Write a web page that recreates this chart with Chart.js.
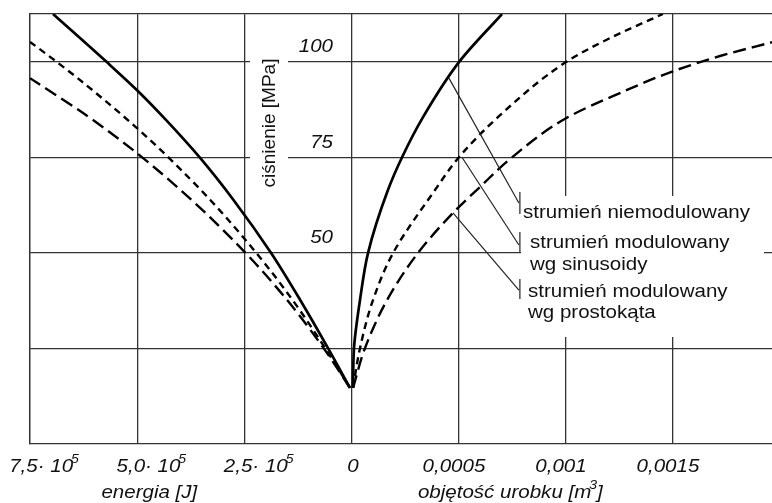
<!DOCTYPE html>
<html>
<head>
<meta charset="utf-8">
<script src="https://cdn.jsdelivr.net/npm/chart.js@4/dist/chart.umd.min.js"></script>
<style>
  html, body { margin: 0; padding: 0; background: #fff; }
  #wrap { width: 772px; height: 503px; }
</style>
</head>
<body>
<div id="wrap"><canvas id="c" width="772" height="503"></canvas></div>
<script>
// ---- series: energy [J] vs pressure [MPa] (left half) ----
const energySolidE  = [4700, 55900, 120700, 188400, 276000, 355200, 432800, 501200, 571100, 696400];
const energySolidP  = [14.7, 25.1, 37.7, 50, 63.9, 75.1, 84.8, 92.7, 100, 112.6];
const energySinE    = [4700, 62400, 138400, 222700, 330100, 428100, 503600, 619100, 687100, 750000];
const energySinP    = [14.7, 25.1, 37.7, 50, 63.9, 75.1, 83.0, 94.0, 100, 105.3];
const energyRectE   = [4700, 66200, 151200, 247600, 373600, 498000, 616500, 750000];
const energyRectP   = [14.7, 25.1, 37.7, 50, 63.9, 75.9, 85.9, 95.8];

// ---- series: volume of output [m3] vs pressure [MPa] (right half) ----
const volumeSolidV  = [0.0000047, 0.0000093, 0.0000374, 0.0000748, 0.000168, 0.000234, 0.000332, 0.0005, 0.000701];
const volumeSolidP  = [14.7, 25.1, 37.7, 50, 66.5, 75.1, 85.6, 100, 112.6];
const volumeSinV    = [0.0000047, 0.0000374, 0.0000981, 0.000192, 0.000388, 0.0005, 0.000692, 0.001, 0.001206, 0.001453];
const volumeSinP    = [14.7, 25.1, 37.7, 50, 66.5, 75.1, 86.1, 100, 106.3, 112.6];
const volumeRectV   = [0.0000047, 0.0000607, 0.000164, 0.000308, 0.000472, 0.000598, 0.000738, 0.001, 0.001252, 0.0015, 0.00172, 0.001963];
const volumeRectP   = [14.7, 25.1, 37.7, 50, 60.5, 67.3, 74.6, 85.3, 91.9, 97.6, 101.6, 105.2];

// ---- axes ----
const pressureGrid       = [25, 50, 75, 100];
const pressureLabelTicks = [50, 75, 100];
const energyTicks        = [750000, 500000, 250000];
const energyTickLabels   = ['7,5· 10⁵', '5,0· 10⁵', '2,5· 10⁵'];
const volumeTicks        = [0, 0.0005, 0.001, 0.0015];
const volumeTickLabels   = ['0', '0,0005', '0,001', '0,0015'];

const energyTitle   = 'energia [J]';
const volumeTitle   = 'objętość urobku [m³]';
const pressureTitle = 'ciśnienie [MPa]';

// axis extents: energy runs leftwards from the shared zero line, volume rightwards
const ENERGY_MAX = 750000;
const VOLUME_MAX = 0.001963;
const ZERO_FRAC  = 322 / 742;   // where the zero line sits across the plot width
const P_MAX      = 112.6;

const INK  = '#111';
const GRID = '#333';
const FONT = '"Liberation Sans", Arial, Helvetica, sans-serif';

const toPoints = (xs, ys) => xs.map((x, i) => ({ x: x, y: ys[i] }));

const SOLID = [];
const SHORT = [7, 5];
const LONG  = [13, 6];

function series(xs, ys, axis, dash) {
  return {
    data: toPoints(xs, ys),
    xAxisID: axis,
    yAxisID: 'y',
    borderColor: '#000',
    borderWidth: dash.length ? 2.4 : 2.7,
    borderDash: dash,
    fill: false,
    pointRadius: 0
  };
}

// ---- text helper: handles superscript digits and slight horizontal widening ----
const SUP = { '⁰': '0', '¹': '1', '²': '2', '³': '3', '⁴': '4', '⁵': '5', '⁶': '6', '⁷': '7', '⁸': '8', '⁹': '9' };
function splitSup(str) {
  const out = [];
  for (const ch of str) {
    const sup = SUP[ch] !== undefined;
    const c = sup ? SUP[ch] : ch;
    const last = out[out.length - 1];
    if (last && last.sup === sup) last.t += c; else out.push({ t: c, sup: sup });
  }
  return out;
}
function drawText(ctx, str, x, y, o) {
  const size = o.size || 19;
  const sx = o.scaleX || 1.08;
  const st = o.italic ? 'italic ' : '';
  const parts = splitSup(str);
  const fontFor = p => st + (p.sup ? Math.round(size * 0.68) : size) + 'px ' + FONT;
  let w = 0;
  for (const p of parts) {
    ctx.font = fontFor(p);
    p.w = ctx.measureText(p.t).width;
    p.k = p.sup ? -size * 0.1 : 0;
    w += p.w + p.k;
  }
  let x0 = x;
  if (o.align === 'center') x0 = x - w * sx / 2;
  else if (o.align === 'right') x0 = x - w * sx;
  ctx.save();
  ctx.translate(x0, y);
  ctx.scale(sx, 1);
  ctx.fillStyle = INK;
  ctx.textAlign = 'left';
  ctx.textBaseline = 'alphabetic';
  let cx = 0;
  for (const p of parts) {
    ctx.font = fontFor(p);
    cx += p.k;
    ctx.fillText(p.t, cx, p.sup ? -size * 0.45 : 0);
    cx += p.w;
  }
  ctx.restore();
}

// blank strips behind the in-plot captions (grid is interrupted there)
const captionGaps = [
  { x0: 250, x1: 288, y0: 30, y1: 200 },
  { x0: 521, x1: 764, y0: 196, y1: 337 }
];

// leader lines from each curve to its caption, in data units of the volume half
const leaders = [
  { v: 0.000453, p: 95.8, ve: 0.000780, pe: 63.1, tick: [66.0, 60.2] },
  { v: 0.000514, p: 75.1, ve: 0.000780, pe: 52.1, tick: [55.5, 50.3] },
  { v: 0.000472, p: 60.5, ve: 0.000780, pe: 40.3, tick: [43.2, 38.0] }
];
const captionLines = [
  { text: 'strumień niemodulowany', x: 523, y: 218 },
  { text: 'strumień modulowany',    x: 530, y: 248 },
  { text: 'wg sinusoidy',           x: 530, y: 270 },
  { text: 'strumień modulowany',    x: 528, y: 297 },
  { text: 'wg prostokąta',          x: 528, y: 318 }
];

const decorations = {
  id: 'decorations',
  beforeDatasetsDraw(chart) {
    const ctx = chart.ctx;
    ctx.save();
    ctx.fillStyle = '#fff';
    for (const g of captionGaps) ctx.fillRect(g.x0, g.y0, g.x1 - g.x0, g.y1 - g.y0);
    ctx.restore();
  },
  afterDraw(chart) {
    const ctx = chart.ctx;
    const { xE, xV, y } = chart.scales;
    const area = chart.chartArea;

    // leader lines
    ctx.save();
    ctx.strokeStyle = '#222';
    ctx.lineWidth = 1.2;
    for (const l of leaders) {
      const ex = xV.getPixelForValue(l.ve);
      ctx.beginPath();
      ctx.moveTo(xV.getPixelForValue(l.v), y.getPixelForValue(l.p));
      ctx.lineTo(ex, y.getPixelForValue(l.pe));
      ctx.stroke();
      ctx.beginPath();
      ctx.moveTo(ex + 1, y.getPixelForValue(l.tick[0]));
      ctx.lineTo(ex + 1, y.getPixelForValue(l.tick[1]));
      ctx.stroke();
    }
    ctx.restore();

    // captions
    for (const c of captionLines) drawText(ctx, c.text, c.x, c.y, { size: 19 });

    // pressure labels sit just above their grid lines, left of the value axis
    for (const v of pressureLabelTicks) {
      drawText(ctx, String(v), 333, y.getPixelForValue(v) - 10, { size: 19, italic: true, align: 'right' });
    }

    // pressure axis title (vertical)
    ctx.save();
    ctx.translate(268, 123);
    ctx.rotate(-Math.PI / 2);
    drawText(ctx, pressureTitle, 0, 7, { size: 19, align: 'center', scaleX: 1 });
    ctx.restore();

    // bottom tick labels
    const base = area.bottom + 28;
    energyTicks.forEach((v, i) => {
      drawText(ctx, energyTickLabels[i], xE.getPixelForValue(v) + 14, base, { size: 19, italic: true, align: 'center' });
    });
    volumeTicks.forEach((v, i) => {
      drawText(ctx, volumeTickLabels[i], xV.getPixelForValue(v) - (v === 0 ? -1 : 5), base, { size: 19, italic: true, align: 'center' });
    });

    // axis titles
    drawText(ctx, energyTitle, xE.getPixelForValue(500000) + 12, area.bottom + 54, { size: 19, italic: true, align: 'center' });
    drawText(ctx, volumeTitle, xV.getPixelForValue(0.00074), area.bottom + 54, { size: 19, italic: true, align: 'center' });
  }
};

const gridOpts = { color: GRID, lineWidth: 1.3, drawTicks: false };
const setTicks = values => scale => { scale.ticks = values.map(v => ({ value: v })); };

new Chart(document.getElementById('c'), {
  type: 'line',
  data: {
    datasets: [
      series(energySolidE, energySolidP, 'xE', SOLID),
      series(energySinE,   energySinP,   'xE', SHORT),
      series(energyRectE,  energyRectP,  'xE', LONG),
      series(volumeSolidV, volumeSolidP, 'xV', SOLID),
      series(volumeSinV,   volumeSinP,   'xV', SHORT),
      series(volumeRectV,  volumeRectP,  'xV', LONG)
    ]
  },
  options: {
    responsive: false,
    animation: false,
    indexAxis: 'y',
    layout: { padding: { left: 30, top: 14, right: 0, bottom: 59 } },
    plugins: { legend: { display: false }, tooltip: { enabled: false } },
    elements: {
      point: { radius: 0 },
      line: { cubicInterpolationMode: 'monotone', borderCapStyle: 'butt' }
    },
    scales: {
      y: {
        type: 'linear', position: 'left', min: 0, max: P_MAX,
        afterBuildTicks: setTicks(pressureGrid),
        ticks: { display: false },
        grid: gridOpts,
        border: { display: true, color: GRID, width: 1.3 }
      },
      xV: {
        type: 'linear', position: 'bottom',
        min: -VOLUME_MAX * ZERO_FRAC / (1 - ZERO_FRAC), max: VOLUME_MAX,
        afterBuildTicks: setTicks(volumeTicks),
        ticks: { display: false },
        grid: gridOpts,
        border: { display: true, color: GRID, width: 1.3 }
      },
      xE: {
        type: 'linear', position: 'top', reverse: true,
        min: -ENERGY_MAX * (1 - ZERO_FRAC) / ZERO_FRAC, max: ENERGY_MAX,
        afterBuildTicks: setTicks(energyTicks),
        ticks: { display: false },
        grid: gridOpts,
        border: { display: true, color: GRID, width: 1.3 }
      }
    }
  },
  plugins: [decorations]
});
</script>
</body>
</html>
